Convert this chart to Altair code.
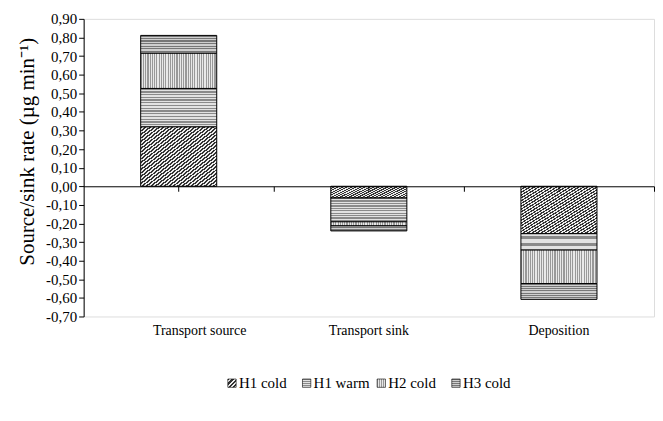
import altair as alt
import pandas as pd

categories = ["Transport source", "Transport sink", "Deposition"]
series = ["H1 cold", "H1 warm", "H2 cold", "H3 cold"]
h1_cold = [0.32, -0.063, -0.255]
h1_warm = [0.206, -0.128, -0.088]
h2_cold = [0.19, -0.022, -0.18]
h3_cold = [0.095, -0.027, -0.085]
y_ticks = [0.9, 0.8, 0.7, 0.6, 0.5, 0.4, 0.3, 0.2, 0.1, 0.0,
           -0.1, -0.2, -0.3, -0.4, -0.5, -0.6, -0.7]

values = [h1_cold, h1_warm, h2_cold, h3_cold]
rows = []
for si, s in enumerate(series):
    for ci, c in enumerate(categories):
        rows.append({"category": c, "series": s, "order": si, "value": values[si][ci]})
df = pd.DataFrame(rows)
legend_df = pd.DataFrame({"series": series, "order": list(range(len(series)))})

FONT = "Liberation Serif"
W, H = 573, 299
Y_MIN, Y_MAX = -0.7, 0.9
zero_off = -(H - H * Y_MAX / (Y_MAX - Y_MIN))
step = W / 3


def stripes(c1, c2, n, x2, y2):
    stops = []
    for i in range(n):
        a, m, b = i / n, (i + 0.5) / n, (i + 1) / n
        stops += [alt.GradientStop(offset=a, color=c1), alt.GradientStop(offset=m, color=c1),
                  alt.GradientStop(offset=m, color=c2), alt.GradientStop(offset=b, color=c2)]
    return alt.LinearGradient(gradient="linear", stops=stops, x1=0, y1=0, x2=x2, y2=y2)


fills = {
    "H1 cold": stripes("#333333", "#eeeeee", 34, 1, 1),
    "H1 warm": stripes("#8a8a8a", "#e2e2e2", 14, 0, 1),
    "H2 cold": stripes("#999999", "#e8e8e8", 34, 1, 0),
    "H3 cold": stripes("#777777", "#cfcfcf", 7, 0, 1),
}
leg_fills = {
    "H1 cold": stripes("#333333", "#eeeeee", 4, 1, 1),
    "H1 warm": stripes("#8a8a8a", "#e2e2e2", 4, 0, 1),
    "H2 cold": stripes("#999999", "#e8e8e8", 4, 1, 0),
    "H3 cold": stripes("#777777", "#cfcfcf", 4, 0, 1),
}

label_expr = "replace(replace(format(datum.value, '.2f'), '.', ','), '\u2212', '-')"
y_scale = alt.Scale(domain=[Y_MIN, Y_MAX], nice=False, zero=False)
y_axis = alt.Axis(values=y_ticks, labelExpr=label_expr, grid=False, tickSize=5,
                  title="Source/sink rate (\u00b5g min\u207b\u00b9)", titleFontSize=21,
                  titleFont=FONT, titleFontWeight="normal", titleColor="black",
                  titleY=133, titlePadding=8,
                  labelFont=FONT, labelFontSize=15, labelColor="black",
                  domainColor="black", tickColor="black", labelPadding=2)
x_scale = alt.Scale(domain=categories, paddingInner=0.6, paddingOuter=0.3)
x_axis_a = alt.Axis(orient="bottom", offset=zero_off, tickSize=5,
                    domainColor="black", tickColor="black", labelAngle=0,
                    labelOffset={"condition": {"test": "datum.value === 'Transport source'",
                                               "value": 21}, "value": 0},
                    labelPadding=-zero_off + 2, labelFont=FONT, labelFontSize=14,
                    labelColor="black", title=None, grid=False, zindex=1)
x_axis_b = alt.Axis(orient="bottom", offset=zero_off, tickOffset=step / 2, tickSize=5,
                    domain=False, labels=False, tickColor="black", title=None,
                    grid=False, zindex=1)

base = alt.Chart(df).transform_stack(
    stack="value", groupby=["category"], as_=["v0", "v1"],
    sort=[alt.SortField("order", order="ascending")]
)

layers = []
for i, s in enumerate(series):
    xa = x_axis_a if i == 0 else (x_axis_b if i == 1 else None)
    layers.append(
        base.transform_filter(alt.datum.series == s)
        .mark_bar(fill=fills[s], stroke="black", strokeWidth=1)
        .encode(
            x=alt.X("category:N", sort=categories, scale=x_scale, axis=xa),
            y=alt.Y("v0:Q", scale=y_scale, axis=y_axis),
            y2="v1:Q",
        )
    )

main = alt.layer(*layers).resolve_axis(x="independent").properties(width=W, height=H)

LW = W
leg_x = alt.X("order:Q", axis=None,
              scale=alt.Scale(domain=[-1.987, 5.653], nice=False, zero=False))
leg_layers = []
for s in series:
    leg_layers.append(
        alt.Chart(legend_df).transform_filter(alt.datum.series == s)
        .mark_square(size=70, fill=leg_fills[s], stroke="black", strokeWidth=0.6, opacity=1)
        .encode(x=leg_x, y=alt.value(10))
    )
leg_layers.append(
    alt.Chart(legend_df).mark_text(align="left", dx=7, font=FONT, fontSize=15, color="black")
    .encode(x=leg_x, y=alt.value(10), text="series:N")
)
legend = alt.layer(*leg_layers).properties(
    width=LW, height=20, view=alt.ViewBackground(stroke="transparent")
)

chart = alt.vconcat(main, legend, spacing=34).properties(
    padding={"left": 8, "top": 2, "right": 0, "bottom": 5}
).configure_view(stroke="black", strokeWidth=1).configure(background="white")

chart.save("out.html", embed_options={"renderer": "svg", "actions": False})
